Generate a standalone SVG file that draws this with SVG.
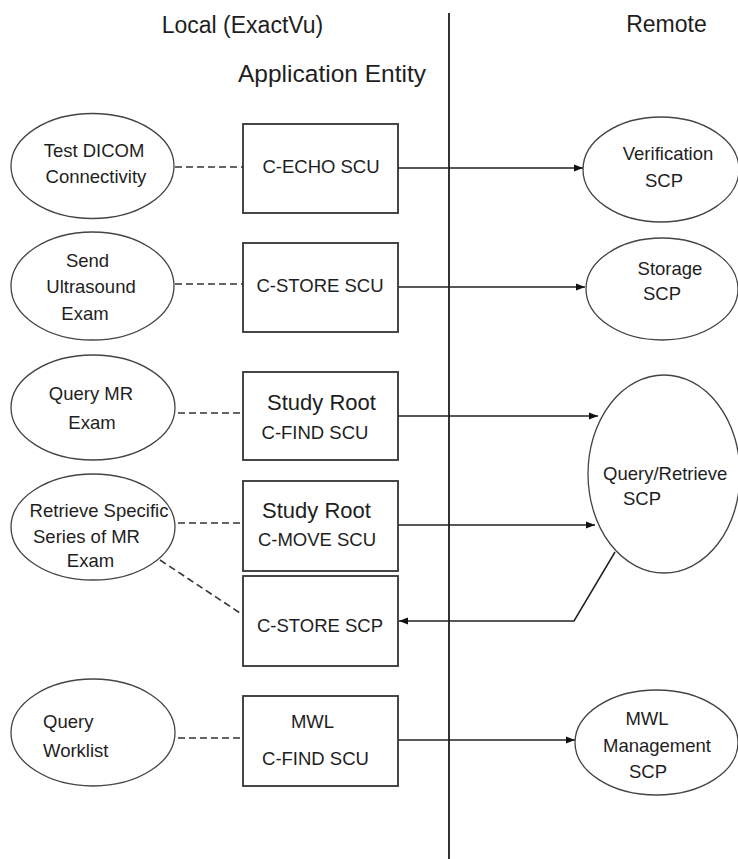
<svg xmlns="http://www.w3.org/2000/svg" width="738" height="859" viewBox="0 0 738 859">
<style>
text{font-family:"Liberation Sans",Arial,sans-serif;fill:#1e1e1e;font-size:18.5px}
.h{font-size:23px}
.h2{font-size:24.5px}
.big{font-size:22px}
.m{text-anchor:middle}
.box{fill:#fff;stroke:#333;stroke-width:1.8}
.ell{fill:#fff;stroke:#444;stroke-width:1.3}
.dash{stroke:#333;stroke-width:1.6;stroke-dasharray:7,4;fill:none}
.arr{stroke:#222;stroke-width:1.5;fill:none}
</style>
<defs>
<marker id="ah" markerUnits="userSpaceOnUse" markerWidth="10" markerHeight="8" refX="9" refY="4" orient="auto">
<path d="M0,0.5 L9,4 L0,7.5 Z" fill="#111"/>
</marker>
</defs>
<rect width="738" height="859" fill="#fff"/>

<g id="headers">
<text class="h m" x="242.5" y="33">Local (ExactVu)</text>
<text class="h2 m" x="332" y="82">Application Entity</text>
<text class="h m" x="666.5" y="32">Remote</text>
</g>

<g id="connectors">
<line x1="449" y1="13" x2="449" y2="859" stroke="#333" stroke-width="2"/>
<line class="dash" x1="175" y1="167" x2="243" y2="167"/>
<line class="dash" x1="175" y1="284" x2="243" y2="284"/>
<line class="dash" x1="178" y1="413" x2="243" y2="413"/>
<line class="dash" x1="178" y1="523" x2="243" y2="523"/>
<line class="dash" x1="160" y1="560" x2="243" y2="615"/>
<line class="dash" x1="178" y1="738" x2="243" y2="738"/>
<line class="arr" x1="398" y1="168" x2="583" y2="168" marker-end="url(#ah)"/>
<line class="arr" x1="398" y1="287" x2="585" y2="287" marker-end="url(#ah)"/>
<line class="arr" x1="398" y1="416" x2="598" y2="416" marker-end="url(#ah)"/>
<line class="arr" x1="398" y1="525" x2="595" y2="525" marker-end="url(#ah)"/>
<polyline class="arr" points="615,552 574,621 399,621" marker-end="url(#ah)"/>
<line class="arr" x1="398" y1="740" x2="575" y2="740" marker-end="url(#ah)"/>
</g>

<g id="test-dicom">
<ellipse class="ell" cx="92.5" cy="166" rx="81.5" ry="52.5"/>
<text class="m" x="94" y="157">Test DICOM</text>
<text class="m" x="96" y="183">Connectivity</text>
</g>
<g id="c-echo-scu">
<rect class="box" x="243" y="124" width="155" height="89"/>
<text class="m" x="321" y="173">C-ECHO SCU</text>
</g>
<g id="verification-scp">
<ellipse class="ell" cx="661" cy="169.5" rx="78" ry="52.5"/>
<text class="m" x="668" y="160">Verification</text>
<text class="m" x="664" y="187">SCP</text>
</g>

<g id="send-ultrasound">
<ellipse class="ell" cx="92.5" cy="286" rx="81.5" ry="54"/>
<text class="m" x="87.5" y="267">Send</text>
<text class="m" x="91" y="293">Ultrasound</text>
<text class="m" x="85" y="320">Exam</text>
</g>
<g id="c-store-scu">
<rect class="box" x="243" y="243" width="155" height="89"/>
<text class="m" x="320" y="292">C-STORE SCU</text>
</g>
<g id="storage-scp">
<ellipse class="ell" cx="662" cy="289" rx="76" ry="51"/>
<text class="m" x="670" y="275">Storage</text>
<text class="m" x="662" y="300">SCP</text>
</g>

<g id="query-mr">
<ellipse class="ell" cx="93" cy="407.5" rx="82" ry="52.5"/>
<text class="m" x="91" y="400">Query MR</text>
<text class="m" x="92" y="429">Exam</text>
</g>
<g id="study-root-find">
<rect class="box" x="243" y="372" width="155" height="88"/>
<text class="big m" x="321.5" y="410">Study Root</text>
<text class="m" x="315" y="439">C-FIND SCU</text>
</g>

<g id="retrieve-series">
<ellipse class="ell" cx="93" cy="527" rx="82" ry="53"/>
<text class="m" x="99" y="517">Retrieve Specific</text>
<text class="m" x="86.5" y="543">Series of MR</text>
<text class="m" x="90.5" y="567">Exam</text>
</g>
<g id="study-root-move">
<rect class="box" x="243" y="481" width="155" height="90"/>
<text class="big m" x="316.5" y="518">Study Root</text>
<text class="m" x="317" y="546">C-MOVE SCU</text>
</g>
<g id="c-store-scp">
<rect class="box" x="243" y="576" width="155" height="90"/>
<text class="m" x="320" y="632">C-STORE SCP</text>
</g>
<g id="query-retrieve-scp">
<ellipse class="ell" cx="664" cy="474" rx="76" ry="99"/>
<text x="603" y="480">Query/Retrieve</text>
<text x="623" y="505">SCP</text>
</g>

<g id="query-worklist">
<ellipse class="ell" cx="93" cy="732.5" rx="82" ry="53.5"/>
<text x="43" y="728">Query</text>
<text x="43" y="757">Worklist</text>
</g>
<g id="mwl-find-scu">
<rect class="box" x="243" y="696" width="155" height="90"/>
<text class="m" x="312.5" y="728">MWL</text>
<text class="m" x="315.5" y="765">C-FIND SCU</text>
</g>
<g id="mwl-management-scp">
<ellipse class="ell" cx="656.5" cy="742.5" rx="81.5" ry="52.5"/>
<text class="m" x="647" y="725">MWL</text>
<text class="m" x="657" y="752">Management</text>
<text class="m" x="648" y="778">SCP</text>
</g>
</svg>
